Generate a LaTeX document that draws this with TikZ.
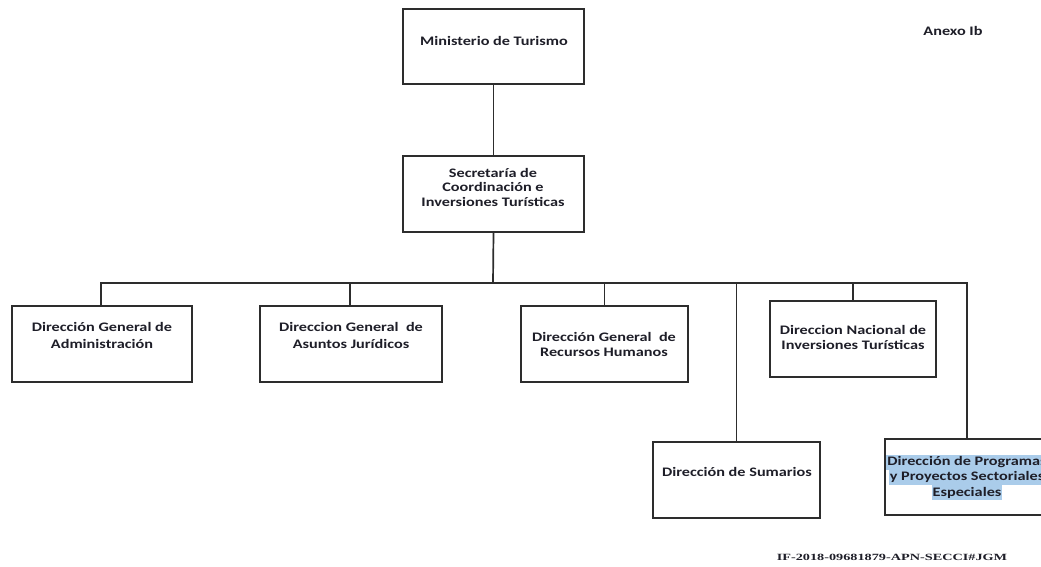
\documentclass[tikz,border=0pt]{standalone}
\usepackage{fontspec}
\setmainfont{Carlito}
\newfontfamily\orgfont[FakeStretch=1.25]{Carlito}
\newfontfamily\docfont{Liberation Serif}
\definecolor{hl}{RGB}{170,204,234}
\definecolor{ln}{RGB}{45,45,45}
\definecolor{tx}{RGB}{30,30,40}
\begin{document}
\begin{tikzpicture}[x=1pt,y=-1pt,
  box/.style={draw=ln,line width=1.6pt,rectangle,minimum height=76pt,inner sep=0pt},
  lbl/.style={font=\orgfont\bfseries\fontsize{13}{16}\selectfont,text=tx,align=center,inner sep=0pt},
  hlline/.style={font=\orgfont\bfseries\fontsize{13}{16}\selectfont,text=tx,fill=hl,inner xsep=1pt,inner ysep=0pt,text height=11pt,text depth=4pt},
  conn/.style={draw=ln,line width=1.7pt}]
\useasboundingbox (0,0) rectangle (1041,566);
\clip (0,0) rectangle (1041,566);
\fill[white] (0,0) rectangle (1041,566);
% boxes
\node[box,minimum width=181pt,minimum height=75pt] (min) at (493.5,46.5) {};
\node[box,minimum width=181pt] (sec) at (493.5,194) {};
\node[box,minimum width=180pt] (b1) at (102,344) {};
\node[box,minimum width=182pt] (b2) at (351,344) {};
\node[box,minimum width=167pt] (b3) at (604.5,344) {};
\node[box,minimum width=166pt] (nac) at (853,339) {};
\node[box,minimum width=167pt] (sum) at (736.5,480) {};
\node[box,minimum width=164pt] (prog) at (967,477) {};
% texts
\node[lbl] (tmin) at (494,41) {Ministerio de Turismo};
\node[lbl,align=center] (tsec) at (493,187) {Secretaría de\\[-1.5pt]Coordinación e\\[-1.5pt]Inversiones Turísticas};
\node[lbl] (tb1) at (102,335) {Dirección General de\\[1pt]Administración};
\node[lbl] (tb2) at (351,335) {Direccion General\ \ de\\[1pt]Asuntos Jurídicos};
\node[lbl] (tb3) at (604,344) {Dirección General\ \ de\\[-1pt]Recursos Humanos};
\node[lbl] (tnac) at (853,337) {Direccion Nacional de\\[-1pt]Inversiones Turísticas};
\node[lbl] (tsum) at (737,472) {Dirección de Sumarios};
\node[hlline] (tp1) at (967,462) {Dirección de Programas};
\node[hlline,anchor=north] (tp2) at (tp1.south) {y Proyectos Sectoriales};
\node[hlline,anchor=north] (tp3) at (tp2.south) {Especiales};
\node[lbl] (anexo) at (953,31) {Anexo Ib};
\node[font=\docfont\bfseries\fontsize{9.5}{11}\selectfont,text=tx,inner sep=0pt] (doc) at (892,557) {\scalebox{1.5}[1]{IF-2018-09681879-APN-SECCI\#JGM}};
% connectors
\coordinate (bar) at (493,283);
\draw[conn] (min.south) -- (sec.north);
\draw[conn] (sec.south) -- (bar);
\draw[conn] ([xshift=-1pt]b1.north) |- (bar) -| (prog.north);
\draw[conn] ([xshift=-1pt]b2.north) -- ([xshift=-1pt]b2.north |- bar);
\draw[conn] (b3.north) -- (b3.north |- bar);
\draw[conn] (nac.north) -- (nac.north |- bar);
\draw[conn] (sum.north) -- (sum.north |- bar);
\end{tikzpicture}
\end{document}
